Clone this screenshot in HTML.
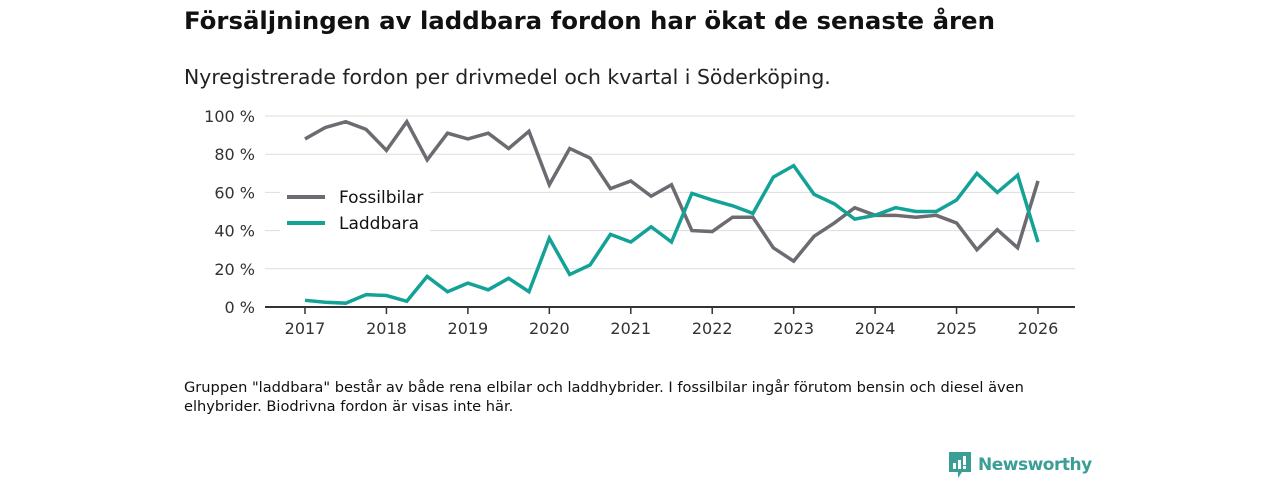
<!DOCTYPE html>
<html><head><meta charset="utf-8"><style>
body{margin:0;width:1280px;height:480px;background:#fff;font-family:"DejaVu Sans","Liberation Sans",sans-serif;color:#111;overflow:hidden}
.t{position:absolute;white-space:nowrap}
</style></head><body>
<div class="t" style="left:184px;top:6px;font-size:24.4px;font-weight:bold">Försäljningen av laddbara fordon har ökat de senaste åren</div>
<div class="t" style="left:184px;top:65px;font-size:20.4px;color:#222">Nyregistrerade fordon per drivmedel och kvartal i Söderköping.</div>
<div class="t" style="left:184px;top:378px;font-size:14.6px;line-height:19px;color:#111;white-space:normal;width:900px">Gruppen "laddbara" består av både rena elbilar och laddhybrider. I fossilbilar ingår förutom bensin och diesel även elhybrider. Biodrivna fordon är visas inte här.</div>
<div class="t" style="left:948px;top:450px;display:flex;align-items:center">
<svg width="24" height="30" viewBox="0 0 24 30"><path d="M1 2h22v20H14l-4 6v-6H1z" fill="#3a9e95"/><rect x="5" y="13" width="3" height="6" fill="#fff"/><rect x="10" y="10" width="3" height="9" fill="#fff"/><rect x="15" y="6" width="3" height="9" fill="#fff"/><rect x="15" y="16" width="3" height="3" fill="#fff"/></svg>
<span style="margin-left:6px;font-size:17px;font-weight:bold;color:#3a9e95;letter-spacing:-0.5px">Newsworthy</span></div>
<svg id="chart" width="1280" height="480" style="position:absolute;left:0;top:0"></svg>
<script>
const years=["2017","2018","2019","2020","2021","2022","2023","2024","2025","2026"];
const yTicks=[0,20,40,60,80,100];
const fossil=[88,94,97,93,82,97,77,91,88,91,83,92,64,83,78,62,66,58,64,40,39.5,47,47,31,24,37,44,52,48,48,47,48,44,30,40.5,31,66];
const laddbara=[3.5,2.5,2,6.5,6,3,16,8,12.5,9,15,8,36,17,22,38,34,42,34,59.5,56,53,49,68,74,59,54,46,48,52,50,50,56,70,60,69,34];
const svg=document.getElementById('chart');const NS='http://www.w3.org/2000/svg';
const x=i=>305+i*(1038-305)/36;const y=v=>307-v*1.91;
function mk(t,a){const e=document.createElementNS(NS,t);for(const k in a)e.setAttribute(k,a[k]);svg.appendChild(e);return e;}
yTicks.forEach(v=>{
 const g=mk('line',{x1:265,x2:1075,y1:y(v),y2:y(v),stroke:v?'#ddd':'#333','stroke-width':v?1:2});
 
 
 const t=mk('text',{x:255,y:y(v)+6,'text-anchor':'end','font-size':16,fill:'#333','font-family':'DejaVu Sans, sans-serif'});t.textContent=v+' %';
 
 
});
years.forEach((yr,k)=>{const xx=x(k*4);
 const l=mk('line',{x1:xx,x2:xx,y1:307,y2:314,stroke:'#333','stroke-width':1.5});
 
 
 const t=mk('text',{x:xx,y:334,'text-anchor':'middle','font-size':16,fill:'#333','font-family':'DejaVu Sans, sans-serif'});t.textContent=yr;
 
 
});
function series(d,c,n){const p=mk('polyline',{points:d.map((v,i)=>x(i)+','+y(v)).join(' '),fill:'none',stroke:c,'stroke-width':3.5,'stroke-linejoin':'miter'});
 
 }
series(fossil,'#6d6b71','fossil-line');
series(laddbara,'#13a296','laddbara-line');
const bg=mk('rect',{x:280,y:180,width:150,height:58,fill:'#fff'});


[['Fossilbilar','#6d6b71',197],['Laddbara','#13a296',223]].forEach(([n,c,yy])=>{
 const l=mk('line',{x1:287,x2:325,y1:yy,y2:yy,stroke:c,'stroke-width':4});
 
 
 const t=mk('text',{x:339,y:yy+6,'font-size':17,fill:'#111','font-family':'DejaVu Sans, sans-serif'});t.textContent=n;
 
 
});
</script>
</body></html>
